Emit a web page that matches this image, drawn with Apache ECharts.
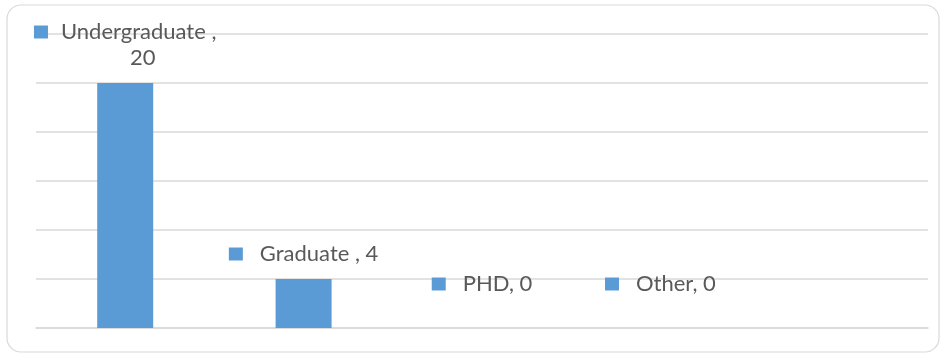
<!DOCTYPE html>
<html>
<head>
<meta charset="utf-8">
<script src="https://cdn.jsdelivr.net/npm/echarts@6/dist/echarts.min.js"></script>
<style>
  html, body { margin: 0; padding: 0; background: #ffffff; }
  #chart { width: 945px; height: 358px; }
</style>
</head>
<body>
<div id="chart"></div>
<script>
// Education level counts
const categories = ['Undergraduate', 'Graduate', 'PHD', 'Other', ''];
const counts = [20, 4, 0, 0, null];
// Value-axis ticks
const yTicks = [0, 4, 8, 12, 16, 20, 24];
// Label separators as written in each data label
const separators = [' , ', ' , ', ', ', ', ', ''];

const BAR = '#5b9bd5';
const TEXT = '#595959';
const GRID = '#d9d9d9';
const FONT = 'Lato, "Open Sans", sans-serif';

const seriesData = counts.map((v, i) => {
  if (v === null) return null;
  const item = { value: v, label: {} };
  if (i === 0) {
    // long name wraps: value goes on a second line under the text
    item.label.formatter = '{sq|}{gapS|}{t|' + categories[i] + separators[i].trimEnd() + '}\n{pad|}{t|' + v + '}';
    item.label.distance = 12;
  } else {
    item.label.formatter = '{sq|}{gap|}{t|' + categories[i] + separators[i] + v + '}';
    item.label.distance = v === 0 ? 31 : 12;
  }
  return item;
});

const chart = echarts.init(document.getElementById('chart'));
chart.setOption({
  backgroundColor: '#ffffff',
  animation: false,
  graphic: [{
    type: 'rect',
    shape: { x: 7, y: 5, width: 932, height: 347, r: 14 },
    style: { fill: 'none', stroke: GRID, lineWidth: 1.2 },
    silent: true
  }],
  grid: { left: 36, right: 17, top: 34, bottom: 30 },
  xAxis: {
    type: 'category',
    data: categories,
    axisLine: { show: true, lineStyle: { color: GRID, width: 1.5 } },
    axisTick: { show: false },
    axisLabel: { show: false }
  },
  yAxis: {
    type: 'value',
    min: yTicks[0],
    max: yTicks[yTicks.length - 1],
    interval: yTicks[1] - yTicks[0],
    axisLine: { show: false },
    axisTick: { show: false },
    axisLabel: { show: false },
    splitLine: { lineStyle: { color: GRID, width: 1.5 } }
  },
  series: [{
    type: 'bar',
    data: seriesData,
    barWidth: 56,
    itemStyle: { color: BAR },
    label: {
      show: true,
      position: 'top',
      align: 'center',
      rich: {
        sq: { width: 14, height: 13, backgroundColor: BAR },
        gap: { width: 17 },
        gapS: { width: 13 },
        pad: { width: 35 },
        t: { color: TEXT, fontFamily: FONT, fontSize: 22, lineHeight: 26 }
      }
    }
  }]
});
</script>
</body>
</html>
